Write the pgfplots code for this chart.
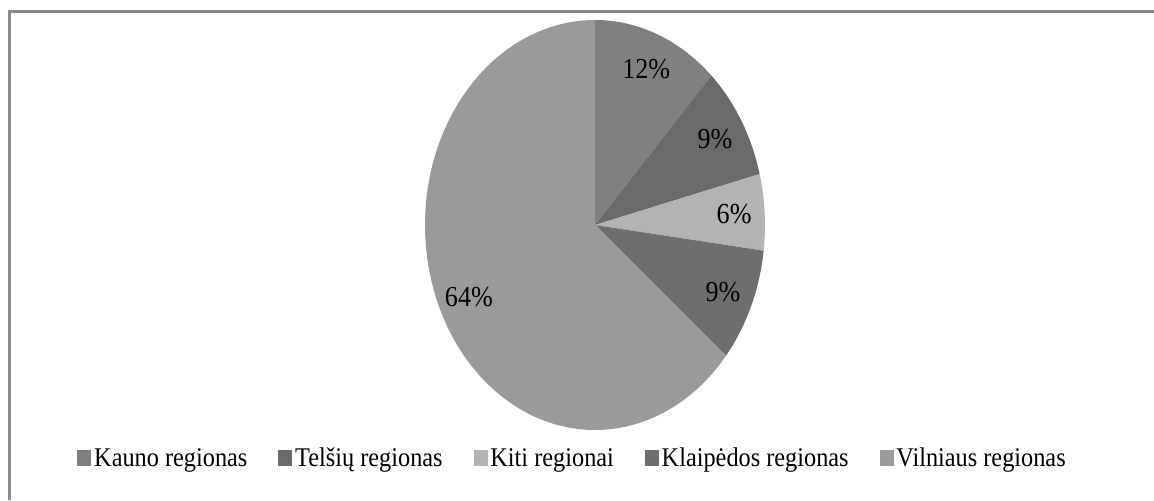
\documentclass[border=0pt]{standalone}
\usepackage{pgfplots}
\pgfplotsset{compat=1.18}
\usepackage{pgfplotstable}
\usepackage{fontspec}
\setmainfont{Liberation Serif}[FakeStretch=0.9]

\definecolor{kauno}{HTML}{808080}
\definecolor{telsiu}{HTML}{6A6A6A}
\definecolor{kiti}{HTML}{B3B3B3}
\definecolor{klaipedos}{HTML}{6E6E6E}
\definecolor{vilniaus}{HTML}{9A9A9A}
\definecolor{framegray}{HTML}{8A8A8A}

% share of each region, in %, clockwise from the top
\pgfplotstableread{
region share col
Kauno 12 kauno
Telsiu 9 telsiu
Kiti 6 kiti
Klaipedos 9 klaipedos
Vilniaus 64 vilniaus
}\pietable

\begin{document}
\begin{tikzpicture}
\useasboundingbox (0,0) rectangle (577pt,250pt);
\draw[framegray, line width=1.3pt] (4.75pt,0) -- (4.75pt,244.25pt) -- (577pt,244.25pt);

\begin{axis}[
  at={(297.5pt,137.5pt)}, anchor=origin,
  scale only axis, width=170pt, height=205pt,
  xmin=-1, xmax=1, ymin=-1, ymax=1,
  hide axis, clip=false,
  legend columns=5,
  legend cell align=left,
  legend style={draw=none, fill=none, inner sep=0pt,
    at={(-1.0235,-0.07)}, anchor=west,
    font=\fontsize{13.5}{16}\selectfont,
    nodes={inner sep=1.5pt},
    /tikz/every even column/.append style={column sep=14pt}},
]
\def\rx{85pt}\def\ry{102.5pt}
\pgfmathsetmacro\angstart{90}
\pgfplotsforeachungrouped \i in {0,...,4}{%
  \pgfplotstablegetelem{\i}{share}\of\pietable \let\share\pgfplotsretval
  \pgfplotstablegetelem{\i}{col}\of\pietable \let\col\pgfplotsretval
  \pgfmathsetmacro\angend{\angstart-3.6*\share}
  \pgfmathsetmacro\angmid{(\angstart+\angend)/2}
  \edef\wedge{%
    \noexpand\fill[\col] (axis cs:0,0) -- (axis cs:{cos(\angstart)},{sin(\angstart)})
      arc[start angle=\angstart, end angle=\angend, x radius=\rx, y radius=\ry] -- cycle;
    \noexpand\node[font=\noexpand\fontsize{14.5}{17}\noexpand\selectfont]
      at (axis cs:{0.82*cos(\angmid)},{0.82*sin(\angmid)}) {\share\noexpand\%};
  }%
  \wedge
  \let\angstart\angend
}

\addlegendimage{legend image code/.code={\fill[kauno] (0pt,-3.2pt) rectangle (6.5pt,4.3pt);}}
\addlegendentry{Kauno regionas}
\addlegendimage{legend image code/.code={\fill[telsiu] (0pt,-3.2pt) rectangle (6.5pt,4.3pt);}}
\addlegendentry{Telšių regionas}
\addlegendimage{legend image code/.code={\fill[kiti] (0pt,-3.2pt) rectangle (6.5pt,4.3pt);}}
\addlegendentry{Kiti regionai}
\addlegendimage{legend image code/.code={\fill[klaipedos] (0pt,-3.2pt) rectangle (6.5pt,4.3pt);}}
\addlegendentry{Klaipėdos regionas}
\addlegendimage{legend image code/.code={\fill[vilniaus] (0pt,-3.2pt) rectangle (6.5pt,4.3pt);}}
\addlegendentry{Vilniaus regionas}
\end{axis}
\end{tikzpicture}
\end{document}
